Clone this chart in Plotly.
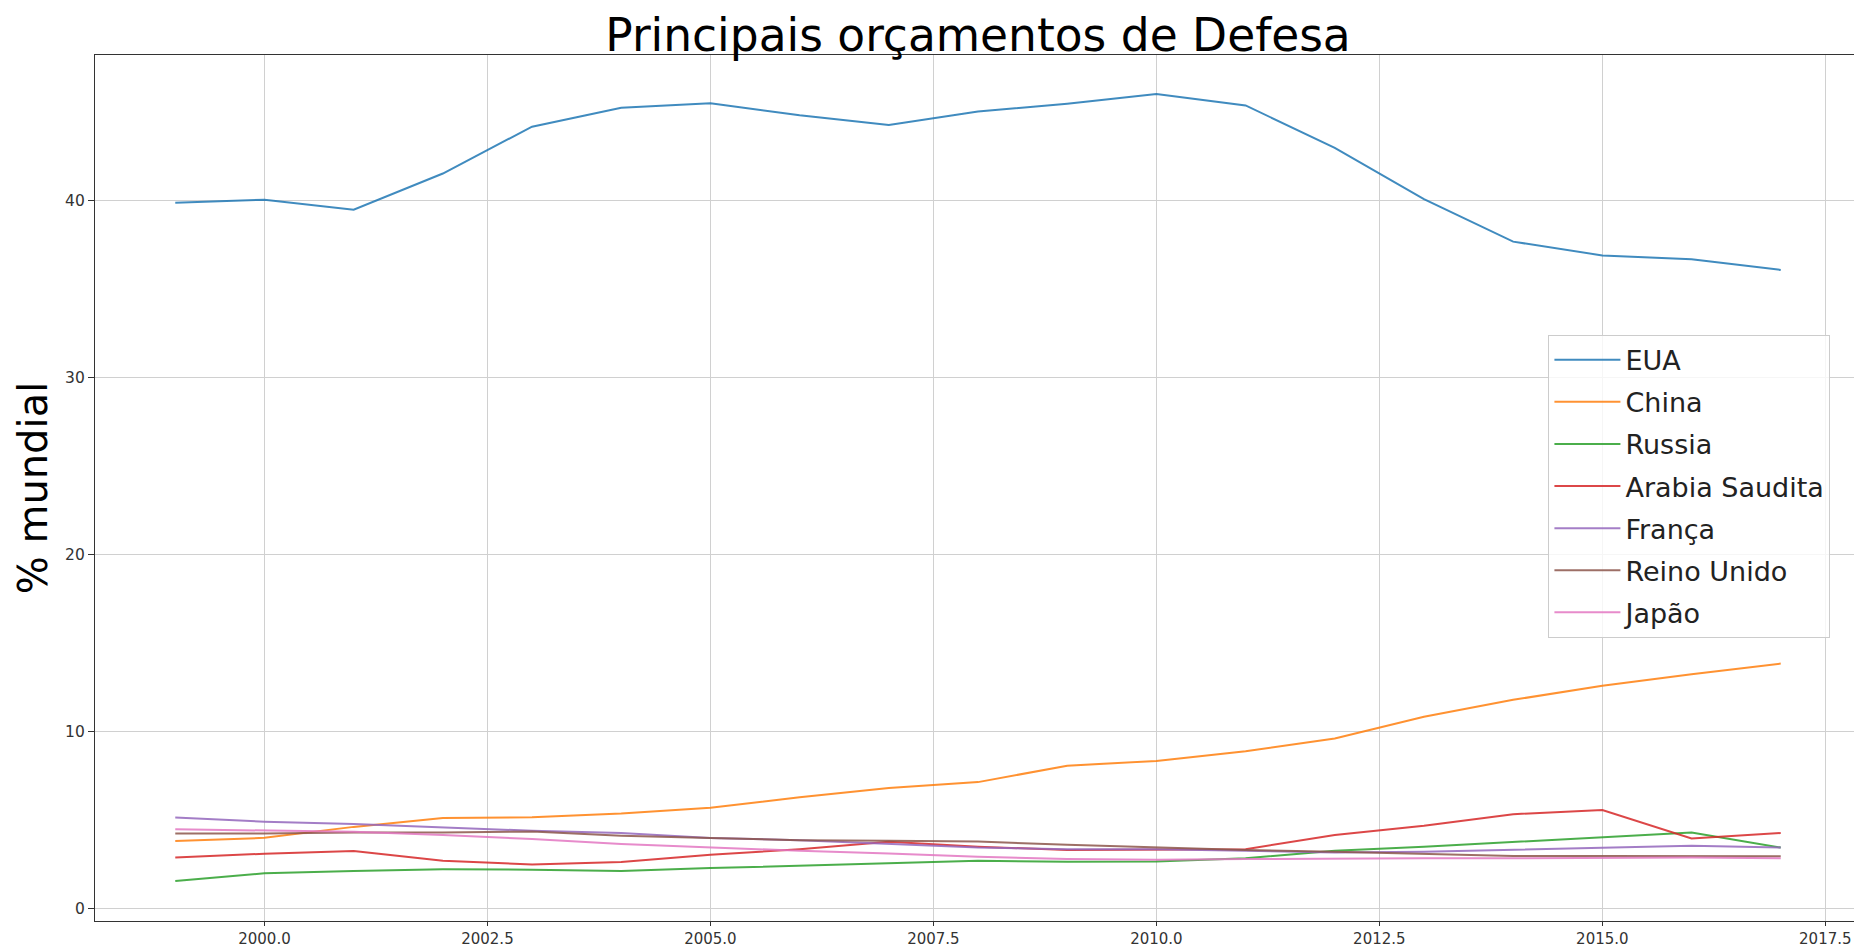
import plotly.graph_objects as go

anos = list(range(1999, 2018))

eua = [39.9, 40.07, 39.5, 41.55, 44.2, 45.27, 45.52, 44.85, 44.3, 45.05,
       45.5, 46.05, 45.4, 43.0, 40.1, 37.7, 36.92, 36.7, 36.1]
china = [3.82, 4.0, 4.62, 5.12, 5.16, 5.37, 5.7, 6.3, 6.82, 7.15,
         8.08, 8.35, 8.9, 9.62, 10.85, 11.8, 12.6, 13.25, 13.85]
russia = [1.56, 2.0, 2.13, 2.22, 2.2, 2.13, 2.29, 2.42, 2.57, 2.7,
          2.65, 2.66, 2.85, 3.27, 3.5, 3.78, 4.02, 4.3, 3.45]
arabia = [2.89, 3.1, 3.25, 2.7, 2.5, 2.64, 3.04, 3.36, 3.78, 3.5,
          3.32, 3.36, 3.36, 4.16, 4.68, 5.34, 5.57, 3.96, 4.27]
franca = [5.15, 4.91, 4.78, 4.59, 4.4, 4.27, 3.99, 3.87, 3.68, 3.45,
          3.36, 3.36, 3.27, 3.17, 3.21, 3.32, 3.45, 3.55, 3.45]
reino_unido = [4.25, 4.25, 4.3, 4.3, 4.36, 4.12, 3.99, 3.87, 3.83, 3.79,
               3.61, 3.45, 3.31, 3.21, 3.11, 2.98, 2.98, 2.98, 2.96]
japao = [4.49, 4.4, 4.34, 4.16, 3.93, 3.65, 3.45, 3.27, 3.11, 2.93,
         2.8, 2.76, 2.8, 2.84, 2.85, 2.85, 2.89, 2.89, 2.85]

nomes = ['EUA', 'China', 'Russia', 'Arabia Saudita', 'França', 'Reino Unido', 'Japão']
series = [eua, china, russia, arabia, franca, reino_unido, japao]
cores = ['#1f77b4', '#ff7f0e', '#2ca02c', '#d62728', '#9467bd', '#8c564b', '#e377c2']

fig = go.Figure()
for nome, vals, cor in zip(nomes, series, cores):
  # um grupo por serie so para poder espaçar a legenda
  fig.add_trace(go.Scatter(x=anos, y=vals, name=nome, mode='lines', legendgroup=nome,
                           line=dict(color=cor, width=2), opacity=0.85))

# a pagina tem 8px de margem no body, por isso o tamanho desconta isso
fig.update_layout(
  width=1854, height=941,
  margin=dict(l=87, r=1, t=47, b=28),
  plot_bgcolor='white', paper_bgcolor='white',
  font=dict(family='DejaVu Sans', color='#222'),
  title=dict(text='Principais orçamentos de Defesa', x=0.5, xref='paper',
             y=1 - 27/941, yref='container', yanchor='middle',
             font=dict(size=45.5, color='black')),
  legend=dict(x=0.823, y=0.677, xanchor='left', yanchor='top',
              bgcolor='rgba(255,255,255,0.8)', bordercolor='#cccccc', borderwidth=1,
              font=dict(size=27, color='#222'), itemwidth=66,
              tracegroupgap=4),
  showlegend=True,
)
fig.update_xaxes(range=[1998.1, 2017.9], tick0=2000, dtick=2.5, tickformat='.1f',
                 showgrid=True, gridcolor='#d0d0d0', gridwidth=1,
                 showline=True, linecolor='#333', linewidth=1.3, mirror=True,
                 ticks='outside', ticklen=4, tickcolor='#333', automargin=False,
                 tickfont=dict(size=15, color='#333'), zeroline=False)
fig.update_yaxes(range=[-0.7, 48.25], tick0=0, dtick=10,
                 showgrid=True, gridcolor='#d0d0d0', gridwidth=1,
                 showline=True, linecolor='#333', linewidth=1.3, mirror=True,
                 ticks='outside', ticklen=6, tickcolor='#333', automargin=False,
                 tickfont=dict(size=15.5, color='#333'), zeroline=False,
                 title=dict(text='% mundial', font=dict(size=40, color='black'), standoff=5))

fig.write_html("out.html")
